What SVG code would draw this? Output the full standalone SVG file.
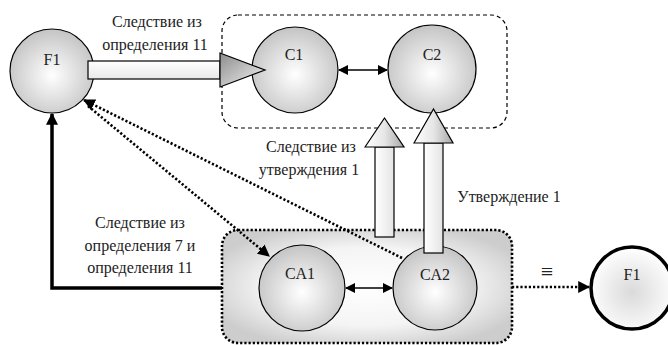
<svg xmlns="http://www.w3.org/2000/svg" width="668" height="345" viewBox="0 0 668 345">
<defs>
<radialGradient id="ballGrad" cx="50%" cy="55%" r="55%">
<stop offset="0" stop-color="#ffffff"/>
<stop offset="1" stop-color="#c4c4c4"/>
</radialGradient>
<radialGradient id="ballGrad2" cx="50%" cy="55%" r="55%">
<stop offset="0" stop-color="#dadada"/>
<stop offset="1" stop-color="#ffffff"/>
</radialGradient>
<radialGradient id="boxGrad" cx="50%" cy="50%" r="58%">
<stop offset="0" stop-color="#ffffff"/>
<stop offset="0.6" stop-color="#f4f4f4"/>
<stop offset="1" stop-color="#cdcdcd"/>
</radialGradient>
<linearGradient id="shaftHGrad" x1="0" y1="0" x2="0" y2="1">
<stop offset="0" stop-color="#ffffff"/>
<stop offset="1" stop-color="#e8e8e8"/>
</linearGradient>
<linearGradient id="shaftVGrad" x1="0" y1="0" x2="1" y2="0">
<stop offset="0" stop-color="#ffffff"/>
<stop offset="1" stop-color="#e4e4e4"/>
</linearGradient>
<linearGradient id="headHGrad" x1="0" y1="0" x2="1" y2="1">
<stop offset="0" stop-color="#8c8c8c"/>
<stop offset="1" stop-color="#f4f4f4"/>
</linearGradient>
<linearGradient id="headVGrad" x1="0" y1="0" x2="1" y2="0">
<stop offset="0" stop-color="#ffffff"/>
<stop offset="0.5" stop-color="#e6e6e6"/>
<stop offset="1" stop-color="#a8a8a8"/>
</linearGradient>
<marker id="arrowSmall" viewBox="0 0 10 10" refX="9" refY="5" markerWidth="10" markerHeight="10" markerUnits="userSpaceOnUse" orient="auto-start-reverse">
<path d="M0,0 L10,5 L0,10 z" fill="#000"/>
</marker>
<marker id="arrowBig" viewBox="0 0 10 10" refX="9" refY="5" markerWidth="12" markerHeight="12" markerUnits="userSpaceOnUse" orient="auto">
<path d="M0,0 L10,5 L0,10 z" fill="#000"/>
</marker>
</defs>
<style>
.ball{fill:url(#ballGrad);stroke:#000;stroke-width:1.2}
.dot{fill:none;stroke:#000;stroke-width:2.6;stroke-dasharray:2.2 2}
.hollow{stroke:#000;stroke-width:1.2}
.lbl{font-family:"Liberation Serif",serif;font-size:16px;fill:#222;text-anchor:middle}
</style>

<g id="groupC">
<rect x="222" y="15" width="285" height="113" rx="16" fill="none" stroke="#000" stroke-width="1.2" stroke-dasharray="4 3"/>
</g>
<g id="groupCA">
<rect x="222" y="230" width="290" height="113" rx="16" fill="url(#boxGrad)" stroke="#000" stroke-width="2.6" stroke-dasharray="2.2 2"/>
</g>

<g id="F1">
<circle class="ball" cx="52" cy="71" r="42"/>
<text class="lbl" x="52" y="65">F1</text>
</g>
<g id="C1">
<circle class="ball" cx="295" cy="70" r="43"/>
<text class="lbl" x="294" y="60">C1</text>
</g>
<g id="C2">
<circle class="ball" cx="432" cy="69" r="44"/>
<text class="lbl" x="432" y="60">C2</text>
</g>
<g id="CA1">
<circle class="ball" cx="302" cy="288" r="43"/>
<text class="lbl" x="300" y="279">CA1</text>
</g>
<g id="CA2">
<circle class="ball" cx="435" cy="288" r="42"/>
<text class="lbl" x="435" y="280">CA2</text>
</g>
<g id="F1b">
<circle cx="632" cy="288" r="41" fill="url(#ballGrad2)" stroke="#000" stroke-width="3.5"/>
<text class="lbl" x="632" y="280">F1</text>
</g>

<g id="connectors">
<rect class="hollow" x="88" y="61" width="132" height="18" fill="url(#shaftHGrad)"/>
<path class="hollow" d="M220,53 L265,70 L220,87 z" fill="url(#headHGrad)"/>
<rect class="hollow" x="375" y="147" width="19" height="90" fill="url(#shaftVGrad)"/>
<path class="hollow" d="M365,147 L384.5,118 L404,147 z" fill="url(#headVGrad)"/>
<rect class="hollow" x="424" y="143" width="19" height="110" fill="url(#shaftVGrad)"/>
<path class="hollow" d="M414,143 L433.5,109 L453,143 z" fill="url(#headVGrad)"/>
<line x1="339" y1="70" x2="387" y2="70" stroke="#000" stroke-width="1.5" marker-start="url(#arrowSmall)" marker-end="url(#arrowSmall)"/>
<line x1="346" y1="288" x2="392" y2="288" stroke="#000" stroke-width="1.5" marker-start="url(#arrowSmall)" marker-end="url(#arrowSmall)"/>
<polyline points="222,288 52,288 52,114" fill="none" stroke="#000" stroke-width="3.5" marker-end="url(#arrowBig)"/>
<line class="dot" x1="402" y1="258" x2="84" y2="100" marker-end="url(#arrowBig)"/>
<line class="dot" x1="88" y1="106" x2="269" y2="256" marker-end="url(#arrowBig)"/>
<line class="dot" x1="512" y1="287" x2="589" y2="287" marker-end="url(#arrowBig)"/>
</g>

<g id="labels">
<text class="lbl" x="157" y="27">Следствие из</text>
<text class="lbl" x="155" y="50">определения 11</text>
<text class="lbl" x="311" y="152">Следствие из</text>
<text class="lbl" x="309" y="175">утверждения 1</text>
<text class="lbl" x="509" y="202">Утверждение 1</text>
<text class="lbl" x="140" y="228">Следствие из</text>
<text class="lbl" x="140" y="251">определения 7 и</text>
<text class="lbl" x="140" y="273">определения 11</text>
<text class="lbl" x="547" y="279" style="font-size:22px">≡</text>
</g>
</svg>
